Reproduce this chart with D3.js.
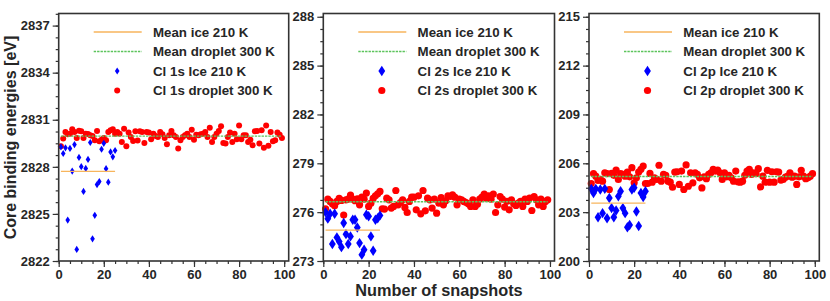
<!DOCTYPE html>
<html>
<head>
<meta charset="utf-8">
<script src="https://cdn.jsdelivr.net/npm/d3@7"></script>
<style>
  body { margin: 0; background: #fff; }
  text { font-family: "Liberation Sans", Arial, sans-serif; font-weight: bold; fill: #262626; }
</style>
</head>
<body>
<div id="chart"></div>
<script>
// snapshot values (snapshot number = index + 1)
var ice1s = [2829.27, 2828.85, 2829.21, 2824.61, 2829.17, 2827.73, 2829.42, 2822.74, 2828.60, 2828.01,
  2826.43, 2827.90, 2828.47, 2829.55, 2823.41, 2824.91, 2826.87, 2827.06, 2829.12, 2829.50,
  2827.88, 2827.02, 2828.95, 2828.64, 2829.04];
var drop1s = [2829.31, 2829.80, 2830.22, 2830.07, 2830.11, 2830.39, 2830.22, 2829.84, 2830.30, 2830.26,
  2829.84, 2830.11, 2830.09, 2830.01, 2829.97, 2829.69, 2830.28, 2829.63, 2829.73, 2829.84,
  2829.69, 2830.22, 2830.33, 2830.39, 2830.11, 2830.22, 2830.11, 2829.59, 2830.43, 2829.31,
  2830.18, 2829.90, 2829.65, 2830.26, 2829.67, 2830.26, 2830.22, 2829.52, 2830.22, 2830.18,
  2829.76, 2830.11, 2829.97, 2829.90, 2830.22, 2830.07, 2829.84, 2829.44, 2830.01, 2830.28,
  2830.01, 2829.90, 2829.17, 2829.69, 2829.90, 2830.01, 2830.11, 2829.90, 2830.37, 2829.73,
  2830.05, 2830.01, 2830.07, 2830.11, 2830.22, 2829.90, 2830.49, 2829.59, 2829.90, 2830.11,
  2830.28, 2830.58, 2829.52, 2829.48, 2829.90, 2830.18, 2829.59, 2830.11, 2829.76, 2830.64,
  2829.76, 2830.01, 2830.01, 2829.59, 2829.73, 2829.38, 2830.26, 2830.28, 2829.48, 2830.33,
  2829.21, 2830.64, 2829.34, 2830.22, 2829.63, 2829.69, 2830.18, 2830.05, 2829.84];

var ice2s = [276.00, 275.60, 275.90, 274.04, 275.90, 274.45, 274.20, 273.85, 275.33, 274.65,
  274.04, 274.51, 275.53, 275.53, 275.06, 274.10, 273.39, 273.69, 275.84, 275.75,
  274.51, 273.63, 275.53, 275.63, 275.80];
var drop2s = [276.21, 276.80, 276.66, 276.51, 276.39, 276.66, 276.84, 276.72, 275.82, 276.76,
  276.80, 277.04, 276.80, 276.70, 276.82, 276.45, 276.92, 276.80, 277.17, 276.35,
  276.55, 276.84, 277.00, 277.13, 277.27, 276.21, 276.19, 276.86, 276.76, 276.25,
  276.35, 277.33, 276.45, 276.59, 276.76, 276.29, 275.98, 276.66, 276.92, 276.92,
  276.14, 277.00, 275.90, 277.33, 276.08, 276.86, 276.76, 276.25, 276.80, 275.94,
  276.55, 276.90, 276.45, 276.70, 277.00, 276.96, 277.06, 276.92, 276.45, 276.80,
  276.76, 276.66, 276.59, 276.51, 276.35, 276.76, 276.35, 276.49, 276.80, 276.92,
  277.11, 276.86, 277.00, 276.80, 277.11, 275.98, 276.45, 276.96, 276.80, 276.31,
  276.66, 276.14, 276.76, 276.51, 276.41, 276.55, 276.66, 276.35, 276.80, 276.66,
  276.86, 276.10, 276.96, 276.76, 276.45, 276.80, 276.35, 276.66, 276.76];

var ice2p = [204.43, 204.18, 204.43, 202.69, 204.39, 202.94, 204.43, 202.63, 203.87, 203.25,
  202.69, 203.10, 203.97, 204.28, 203.25, 202.94, 202.07, 202.21, 204.39, 204.50,
  203.04, 202.15, 204.18, 203.93, 204.28];
var drop2p = [204.76, 205.36, 205.21, 204.95, 205.01, 204.90, 205.42, 205.36, 204.39, 205.38,
  205.26, 205.59, 205.01, 205.36, 205.32, 205.21, 205.46, 205.17, 205.73, 204.80,
  205.11, 205.46, 205.63, 205.83, 204.76, 204.76, 205.38, 204.84, 205.11, 205.01,
  205.88, 204.90, 205.32, 205.26, 204.90, 204.84, 204.53, 205.46, 205.48, 204.70,
  205.52, 204.39, 205.90, 204.59, 205.42, 204.80, 205.42, 205.32, 205.11, 204.49,
  205.17, 205.05, 205.32, 205.42, 205.63, 205.52, 205.59, 205.42, 205.01, 205.42,
  205.17, 205.26, 205.11, 204.90, 205.52, 204.86, 204.84, 204.90, 205.26, 205.52,
  205.63, 205.32, 205.42, 205.36, 205.67, 204.55, 205.21, 204.84, 205.57, 204.84,
  205.48, 204.84, 205.48, 205.46, 204.97, 205.01, 205.15, 205.21, 205.42, 205.15,
  205.21, 204.70, 205.17, 205.57, 205.21, 205.05, 205.11, 205.21, 205.36];

var meanIce = [2827.71, 274.90, 203.56];
var meanDrop = [2829.96, 276.64, 205.19];

var orbitals = ["Cl 1s", "Cl 2s", "Cl 2p"];
var yTicks = [[2822, 2825, 2828, 2831, 2834, 2837], [273, 276, 279, 282, 285, 288], [200, 203, 206, 209, 212, 215]];
var yDomains = [[2822, 2837.77], [273, 288.2], [200, 215.2]];
var xTicks = [0, 20, 40, 60, 80, 100];

var iceSets = [ice1s, ice2s, ice2p];
var dropSets = [drop1s, drop2s, drop2p];

var W = 830, H = 301;
var lefts = [58.7, 323.3, 589], rights = [288.7, 554.5, 819.3];
var plotTop = 13.5, plotBottom = 261;
var sizes = [{r: 3, dw: 2.3, dh: 3.6}, {r: 3.6, dw: 3.4, dh: 5.2}, {r: 3.6, dw: 3.4, dh: 5.2}];
var iceColor = "#0000ff", dropColor = "#ff0000", meanIceColor = "#f7b55c", meanDropColor = "#5cc45c";

var svg = d3.select("#chart").append("svg")
  .attr("width", W)
  .attr("height", H);

function diamond(hw, hh) {
  return "M0," + (-hh) + "L" + hw + ",0L0," + hh + "L" + (-hw) + ",0Z";
}

orbitals.forEach(function(orb, p) {
  var g = svg.append("g");
  var sz = sizes[p];

  var x = d3.scaleLinear().domain([0, 102]).range([lefts[p], rights[p]]);
  var y = d3.scaleLinear().domain(yDomains[p]).range([plotBottom, plotTop]);

  // minor ticks
  var yMinor = d3.range(yDomains[p][0], yDomains[p][1] + 0.01, 0.75);
  g.append("g").attr("class", "axis")
    .attr("transform", "translate(" + lefts[p] + ",0)")
    .call(d3.axisLeft(y).tickValues(yMinor).tickSize(3).tickFormat(""));
  g.append("g").attr("class", "axis")
    .attr("transform", "translate(0," + plotBottom + ")")
    .call(d3.axisBottom(x).tickValues(d3.range(0, 101, 5)).tickSize(3).tickFormat(""));

  // major ticks
  g.append("g").attr("class", "axis")
    .attr("transform", "translate(" + lefts[p] + ",0)")
    .call(d3.axisLeft(y).tickValues(yTicks[p]).tickSize(6).tickPadding(3).tickFormat(d3.format("d")));
  g.append("g").attr("class", "axis")
    .attr("transform", "translate(0," + plotBottom + ")")
    .call(d3.axisBottom(x).tickValues(xTicks).tickSize(6).tickPadding(3).tickFormat(d3.format("d")));

  g.selectAll(".axis path").remove();
  g.selectAll(".axis line").attr("stroke", "#333").attr("stroke-width", 1.2);
  g.selectAll(".axis text").style("font-size", "13px").attr("fill", "#262626");

  // droplet points
  g.append("g").selectAll("circle")
    .data(dropSets[p])
    .enter()
    .append("circle")
    .attr("cx", function(d, i) { return x(i + 1); })
    .attr("cy", function(d) { return y(d); })
    .attr("r", sz.r)
    .attr("fill", dropColor);

  // ice points
  g.append("g").selectAll("path")
    .data(iceSets[p])
    .enter()
    .append("path")
    .attr("transform", function(d, i) { return "translate(" + x(i + 1) + "," + y(d) + ")"; })
    .attr("d", diamond(sz.dw, sz.dh))
    .attr("fill", iceColor);

  // mean lines
  g.append("line")
    .attr("x1", x(1)).attr("x2", x(iceSets[p].length))
    .attr("y1", y(meanIce[p])).attr("y2", y(meanIce[p]))
    .attr("stroke", meanIceColor).attr("stroke-width", 1.3);
  g.append("line")
    .attr("x1", x(1)).attr("x2", x(dropSets[p].length))
    .attr("y1", y(meanDrop[p])).attr("y2", y(meanDrop[p]))
    .attr("stroke", meanDropColor).attr("stroke-width", 1.3)
    .attr("stroke-dasharray", "2.4,1");

  // frame
  g.append("rect")
    .attr("x", lefts[p]).attr("y", plotTop)
    .attr("width", rights[p] - lefts[p]).attr("height", plotBottom - plotTop)
    .attr("fill", "none").attr("stroke", "#333").attr("stroke-width", 1.6);

  // legend
  var lx = lefts[p];
  var rows = [32, 51.5, 71, 90.5];
  var lg = g.append("g");
  lg.append("line").attr("x1", lx + 35).attr("x2", lx + 83).attr("y1", rows[0]).attr("y2", rows[0])
    .attr("stroke", meanIceColor).attr("stroke-width", 1.3);
  lg.append("line").attr("x1", lx + 35).attr("x2", lx + 83).attr("y1", rows[1]).attr("y2", rows[1])
    .attr("stroke", meanDropColor).attr("stroke-width", 1.3).attr("stroke-dasharray", "2.4,1");
  lg.append("path").attr("transform", "translate(" + (lx + 58.5) + "," + rows[2] + ")")
    .attr("d", diamond(sz.dw, sz.dh)).attr("fill", iceColor);
  lg.append("circle").attr("cx", lx + 58.5).attr("cy", rows[3]).attr("r", sz.r)
    .attr("fill", dropColor);
  var labels = ["Mean ice 210 K", "Mean droplet 300 K", orb + " Ice 210 K", orb + " droplet 300 K"];
  lg.selectAll("text")
    .data(labels)
    .enter()
    .append("text")
    .attr("x", lx + 94.3)
    .attr("y", function(d, i) { return rows[i] + 4.7; })
    .style("font-size", "13.3px")
    .text(function(d) { return d; });
});

svg.append("text")
  .attr("transform", "translate(15.5,137.5) rotate(-90)")
  .attr("text-anchor", "middle")
  .style("font-size", "16px")
  .text("Core binding energies [eV]");

svg.append("text")
  .attr("x", 439)
  .attr("y", 296)
  .attr("text-anchor", "middle")
  .style("font-size", "16.3px")
  .text("Number of snapshots");
</script>
</body>
</html>
